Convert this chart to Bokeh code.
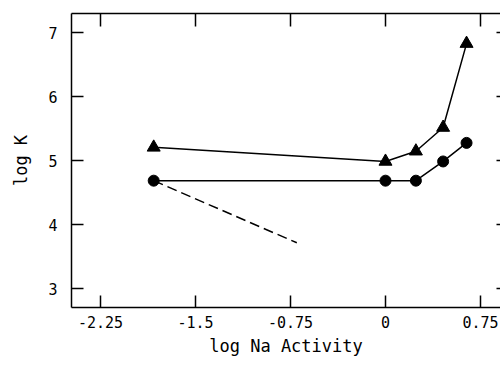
from bokeh.plotting import figure
from bokeh.models import Range1d, LinearAxis, FixedTicker
from bokeh.embed import file_html
from bokeh.resources import INLINE

# Data
na_activity = [-1.83, 0.0, 0.24, 0.455, 0.64]
logk_triangle = [5.21, 4.99, 5.15, 5.52, 6.83]
logk_circle = [4.69, 4.69, 4.69, 4.99, 5.28]
dash_x = [-1.83, -0.70]
dash_y = [4.69, 3.72]

x_ticks = [-2.25, -1.5, -0.75, 0, 0.75]
x_tick_labels = {-2.25: "-2.25", -1.5: "-1.5", -0.75: "-0.75", 0: "0", 0.75: "0.75"}
y_ticks = [3, 4, 5, 6, 7]

FONT = "DejaVu Sans Mono"

p = figure(width=500, height=365, output_backend="svg", toolbar_location=None,
           x_range=Range1d(-2.479, 0.908), y_range=Range1d(2.71, 7.30),
           min_border_left=71, min_border_right=0, min_border_top=13, min_border_bottom=58,
           x_axis_label="log Na Activity", y_axis_label="log K")
p.outline_line_color = None
p.grid.visible = False
p.background_fill_color = "white"
p.border_fill_color = "white"

for ax in p.xaxis:
    ax.ticker = FixedTicker(ticks=x_ticks)
    ax.major_label_overrides = x_tick_labels
for ax in p.yaxis:
    ax.ticker = FixedTicker(ticks=y_ticks)

for ax in list(p.xaxis) + list(p.yaxis):
    ax.major_tick_in = 12
    ax.major_tick_out = 0
    ax.minor_tick_in = 0
    ax.minor_tick_out = 0
    ax.axis_line_width = 1.5
    ax.major_tick_line_width = 1.5
    ax.axis_line_color = "black"
    ax.major_tick_line_color = "black"
    ax.major_label_text_font = FONT
    ax.major_label_text_font_size = "15px"
    ax.major_label_text_color = "black"
    ax.axis_label_text_font = FONT
    ax.axis_label_text_font_size = "17px"
    ax.axis_label_text_font_style = "normal"
    ax.axis_label_text_color = "black"

p.xaxis.major_label_standoff = 8
p.xaxis.axis_label_standoff = 5
p.yaxis.major_label_standoff = 14
p.yaxis.axis_label_standoff = 14

top = LinearAxis(ticker=FixedTicker(ticks=x_ticks), major_tick_in=13, major_tick_out=0,
                 minor_tick_in=0, minor_tick_out=0,
                 major_label_overrides={t: "" for t in x_ticks},
                 major_label_standoff=0, axis_line_width=1.5, major_tick_line_width=1.5)
p.add_layout(top, "above")
right = LinearAxis(ticker=FixedTicker(ticks=y_ticks), major_tick_in=4, major_tick_out=0,
                   minor_tick_in=0, minor_tick_out=0,
                   major_label_overrides={t: "" for t in y_ticks},
                   major_label_standoff=0, axis_line_color=None, major_tick_line_width=1.5)
p.add_layout(right, "right")

p.line(na_activity, logk_triangle, line_color="black", line_width=1.5)
p.scatter(na_activity, logk_triangle, marker="triangle", size=13, fill_color="black", line_color="black")
p.line(na_activity, logk_circle, line_color="black", line_width=1.5)
p.scatter(na_activity, logk_circle, marker="circle", size=11, fill_color="black", line_color="black")
p.line(dash_x, dash_y, line_color="black", line_width=1.5, line_dash="10 5")

open("out.html", "w").write(file_html(p, INLINE))
